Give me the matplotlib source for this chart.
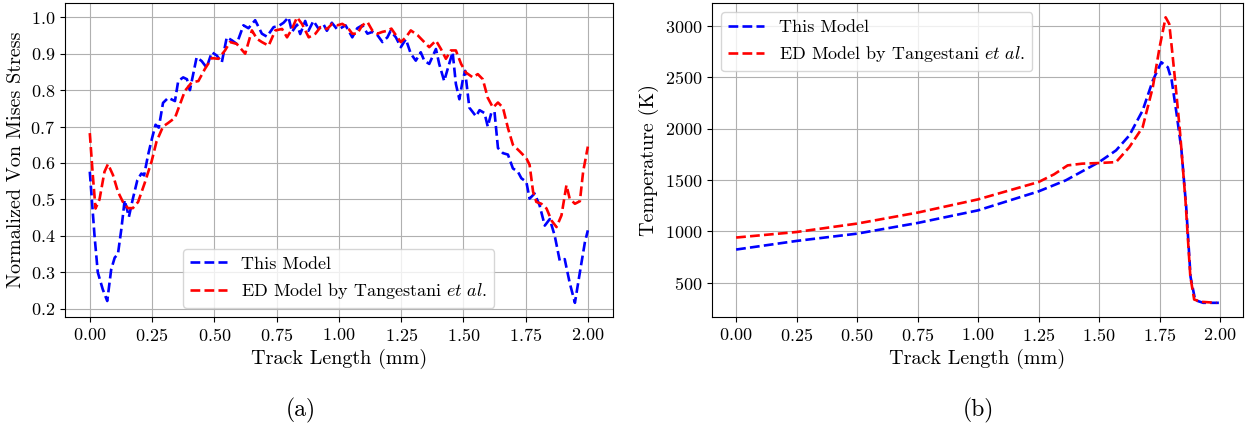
import numpy as np
import matplotlib
matplotlib.use("Agg")
import matplotlib.pyplot as plt

# Von Mises stress along the track (normalized)
stress_x_this = [0.0, 0.019, 0.032, 0.052, 0.070, 0.086, 0.10, 0.113, 0.127, 0.14, 0.157, 0.173, 0.191,
                 0.207, 0.218, 0.234, 0.25, 0.264, 0.277, 0.294, 0.315, 0.342, 0.355, 0.375, 0.39,
                 0.402, 0.429, 0.449, 0.469, 0.49, 0.51, 0.53, 0.55, 0.57, 0.59, 0.617, 0.637,
                 0.664, 0.691, 0.711, 0.738, 0.758, 0.778, 0.798, 0.812, 0.832, 0.845, 0.865,
                 0.878, 0.898, 0.919, 0.939, 0.952, 0.972, 0.992, 1.007, 1.027, 1.054, 1.074,
                 1.094, 1.115, 1.135, 1.155, 1.175, 1.195, 1.208, 1.229, 1.249, 1.269, 1.289,
                 1.309, 1.329, 1.343, 1.363, 1.39, 1.403, 1.423, 1.443, 1.457, 1.47, 1.484,
                 1.497, 1.507, 1.524, 1.551, 1.565, 1.585, 1.598, 1.612, 1.625, 1.639, 1.659,
                 1.679, 1.699, 1.719, 1.733, 1.753, 1.766, 1.786, 1.806, 1.827, 1.847, 1.867,
                 1.887, 1.907, 1.927, 1.948, 1.968, 1.988, 2.0]
stress_y_this = [0.576, 0.40, 0.30, 0.253, 0.221, 0.308, 0.34, 0.35, 0.42, 0.498, 0.452, 0.502, 0.553,
                 0.571, 0.566, 0.622, 0.668, 0.705, 0.697, 0.765, 0.779, 0.77, 0.825, 0.835, 0.83,
                 0.80, 0.89, 0.88, 0.862, 0.904, 0.895, 0.876, 0.945, 0.937, 0.927, 0.978, 0.97,
                 0.992, 0.955, 0.947, 0.973, 0.976, 0.985, 1.0, 0.96, 0.98, 0.954, 0.99,
                 0.963, 0.99, 0.968, 0.98, 0.963, 0.985, 0.968, 0.97, 0.978, 0.945, 0.97,
                 0.978, 0.955, 0.96, 0.951, 0.932, 0.945, 0.963, 0.945, 0.918, 0.94, 0.90,
                 0.881, 0.904, 0.881, 0.872, 0.913, 0.872, 0.825, 0.872, 0.904, 0.817, 0.775,
                 0.825, 0.853, 0.752, 0.728, 0.745, 0.737, 0.70, 0.737, 0.741, 0.641, 0.627,
                 0.623, 0.585, 0.576, 0.558, 0.548, 0.502, 0.516, 0.484, 0.428, 0.446, 0.40,
                 0.332, 0.336, 0.271, 0.216, 0.30, 0.382, 0.415]

stress_x_ed = [0.0, 0.012, 0.023, 0.039, 0.059, 0.073, 0.093, 0.113, 0.133, 0.153, 0.173, 0.194, 0.22,
               0.248, 0.268, 0.294, 0.315, 0.342, 0.362, 0.382, 0.409, 0.436, 0.462, 0.49, 0.516,
               0.543, 0.563, 0.59, 0.624, 0.651, 0.671, 0.691, 0.718, 0.745, 0.772, 0.792, 0.812,
               0.832, 0.852, 0.879, 0.906, 0.926, 0.953, 0.973, 0.994, 1.014, 1.034, 1.054, 1.074,
               1.094, 1.115, 1.135, 1.155, 1.175, 1.195, 1.211, 1.229, 1.249, 1.269, 1.289, 1.316,
               1.343, 1.363, 1.39, 1.41, 1.43, 1.45, 1.47, 1.491, 1.511, 1.538, 1.558, 1.578,
               1.598, 1.619, 1.639, 1.659, 1.679, 1.699, 1.726, 1.753, 1.766, 1.78, 1.793, 1.813,
               1.834, 1.854, 1.874, 1.894, 1.914, 1.927, 1.948, 1.968, 1.981, 2.0]
stress_y_ed = [0.682, 0.567, 0.475, 0.50, 0.576, 0.597, 0.567, 0.521, 0.493, 0.476, 0.476, 0.493, 0.544,
               0.604, 0.659, 0.70, 0.71, 0.724, 0.761, 0.798, 0.821, 0.825, 0.858, 0.888, 0.886,
               0.909, 0.932, 0.927, 0.90, 0.964, 0.941, 0.932, 0.922, 0.964, 0.968, 0.945, 0.968,
               1.0, 0.982, 0.945, 0.955, 0.973, 0.968, 0.982, 0.978, 0.982, 0.973, 0.955, 0.955,
               0.978, 0.987, 0.963, 0.955, 0.96, 0.963, 0.969, 0.951, 0.932, 0.945, 0.964, 0.951,
               0.932, 0.918, 0.936, 0.913, 0.886, 0.909, 0.909, 0.872, 0.848, 0.835, 0.844, 0.83,
               0.779, 0.752, 0.766, 0.752, 0.696, 0.65, 0.632, 0.613, 0.595, 0.521, 0.493, 0.488,
               0.475, 0.442, 0.424, 0.456, 0.539, 0.502, 0.488, 0.495, 0.576, 0.645]

# Temperature along the track (K)
temp_x_this = [0.0, 0.25, 0.5, 0.75, 1.0, 1.25, 1.362, 1.5, 1.57, 1.625, 1.68, 1.722, 1.757,
               1.784, 1.80, 1.82, 1.84, 1.86, 1.878, 1.897, 1.93, 1.995]
temp_y_this = [822, 906, 977, 1081, 1204, 1389, 1496, 1674, 1788, 1934, 2177, 2469, 2647,
               2598, 2470, 2150, 1800, 1236, 555, 329, 303, 303]

temp_x_ed = [0.0, 0.25, 0.5, 0.75, 1.0, 1.25, 1.314, 1.37, 1.43, 1.5, 1.57, 1.625, 1.68, 1.722,
             1.75, 1.775, 1.79, 1.80, 1.815, 1.835, 1.857, 1.877, 1.893, 1.92, 1.985]
temp_y_ed = [939, 993, 1075, 1182, 1311, 1480, 1555, 1642, 1659, 1665, 1674, 1820, 2014, 2404,
             2793, 3085, 3020, 2800, 2450, 1950, 1300, 560, 335, 313, 303]

plt.rcParams['font.family'] = ['cmr10']
plt.rcParams['mathtext.fontset'] = 'cm'
plt.rcParams['axes.formatter.use_mathtext'] = True
plt.rcParams['font.size'] = 13
plt.rcParams['axes.labelsize'] = 14.5

fig = plt.figure(figsize=(12.48, 4.32), dpi=100)
ax1 = fig.add_axes([0.052, 0.266, 0.439, 0.727])
ax2 = fig.add_axes([0.5705, 0.266, 0.4255, 0.727])

ed_label = r'ED Model by Tangestani $\it{et\ al.}$'

ax1.plot(stress_x_this, stress_y_this, color='blue', linestyle='--', lw=1.9, label='This Model')
ax1.plot(stress_x_ed, stress_y_ed, color='red', linestyle='--', lw=1.9, label=ed_label)
ax1.set_xlabel('Track Length (mm)')
ax1.set_ylabel('Normalized Von Mises Stress')
ax1.set_xticks(np.arange(0, 2.01, 0.25))
ax1.set_yticks(np.arange(0.2, 1.01, 0.1))
ax1.grid(True)
ax1.legend(loc='lower center')

ax2.plot(temp_x_this, temp_y_this, color='blue', linestyle='--', lw=1.9, label='This Model')
ax2.plot(temp_x_ed, temp_y_ed, color='red', linestyle='--', lw=1.9, label=ed_label)
ax2.set_xlabel('Track Length (mm)')
ax2.set_ylabel('Temperature (K)')
ax2.set_xticks(np.arange(0, 2.01, 0.25))
ax2.grid(True)
ax2.legend(loc='upper left')

fig.text(0.241, 0.05, '(a)', ha='center', va='center', fontsize=17)
fig.text(0.784, 0.05, '(b)', ha='center', va='center', fontsize=17)

fig.savefig('out.png', dpi=100)
